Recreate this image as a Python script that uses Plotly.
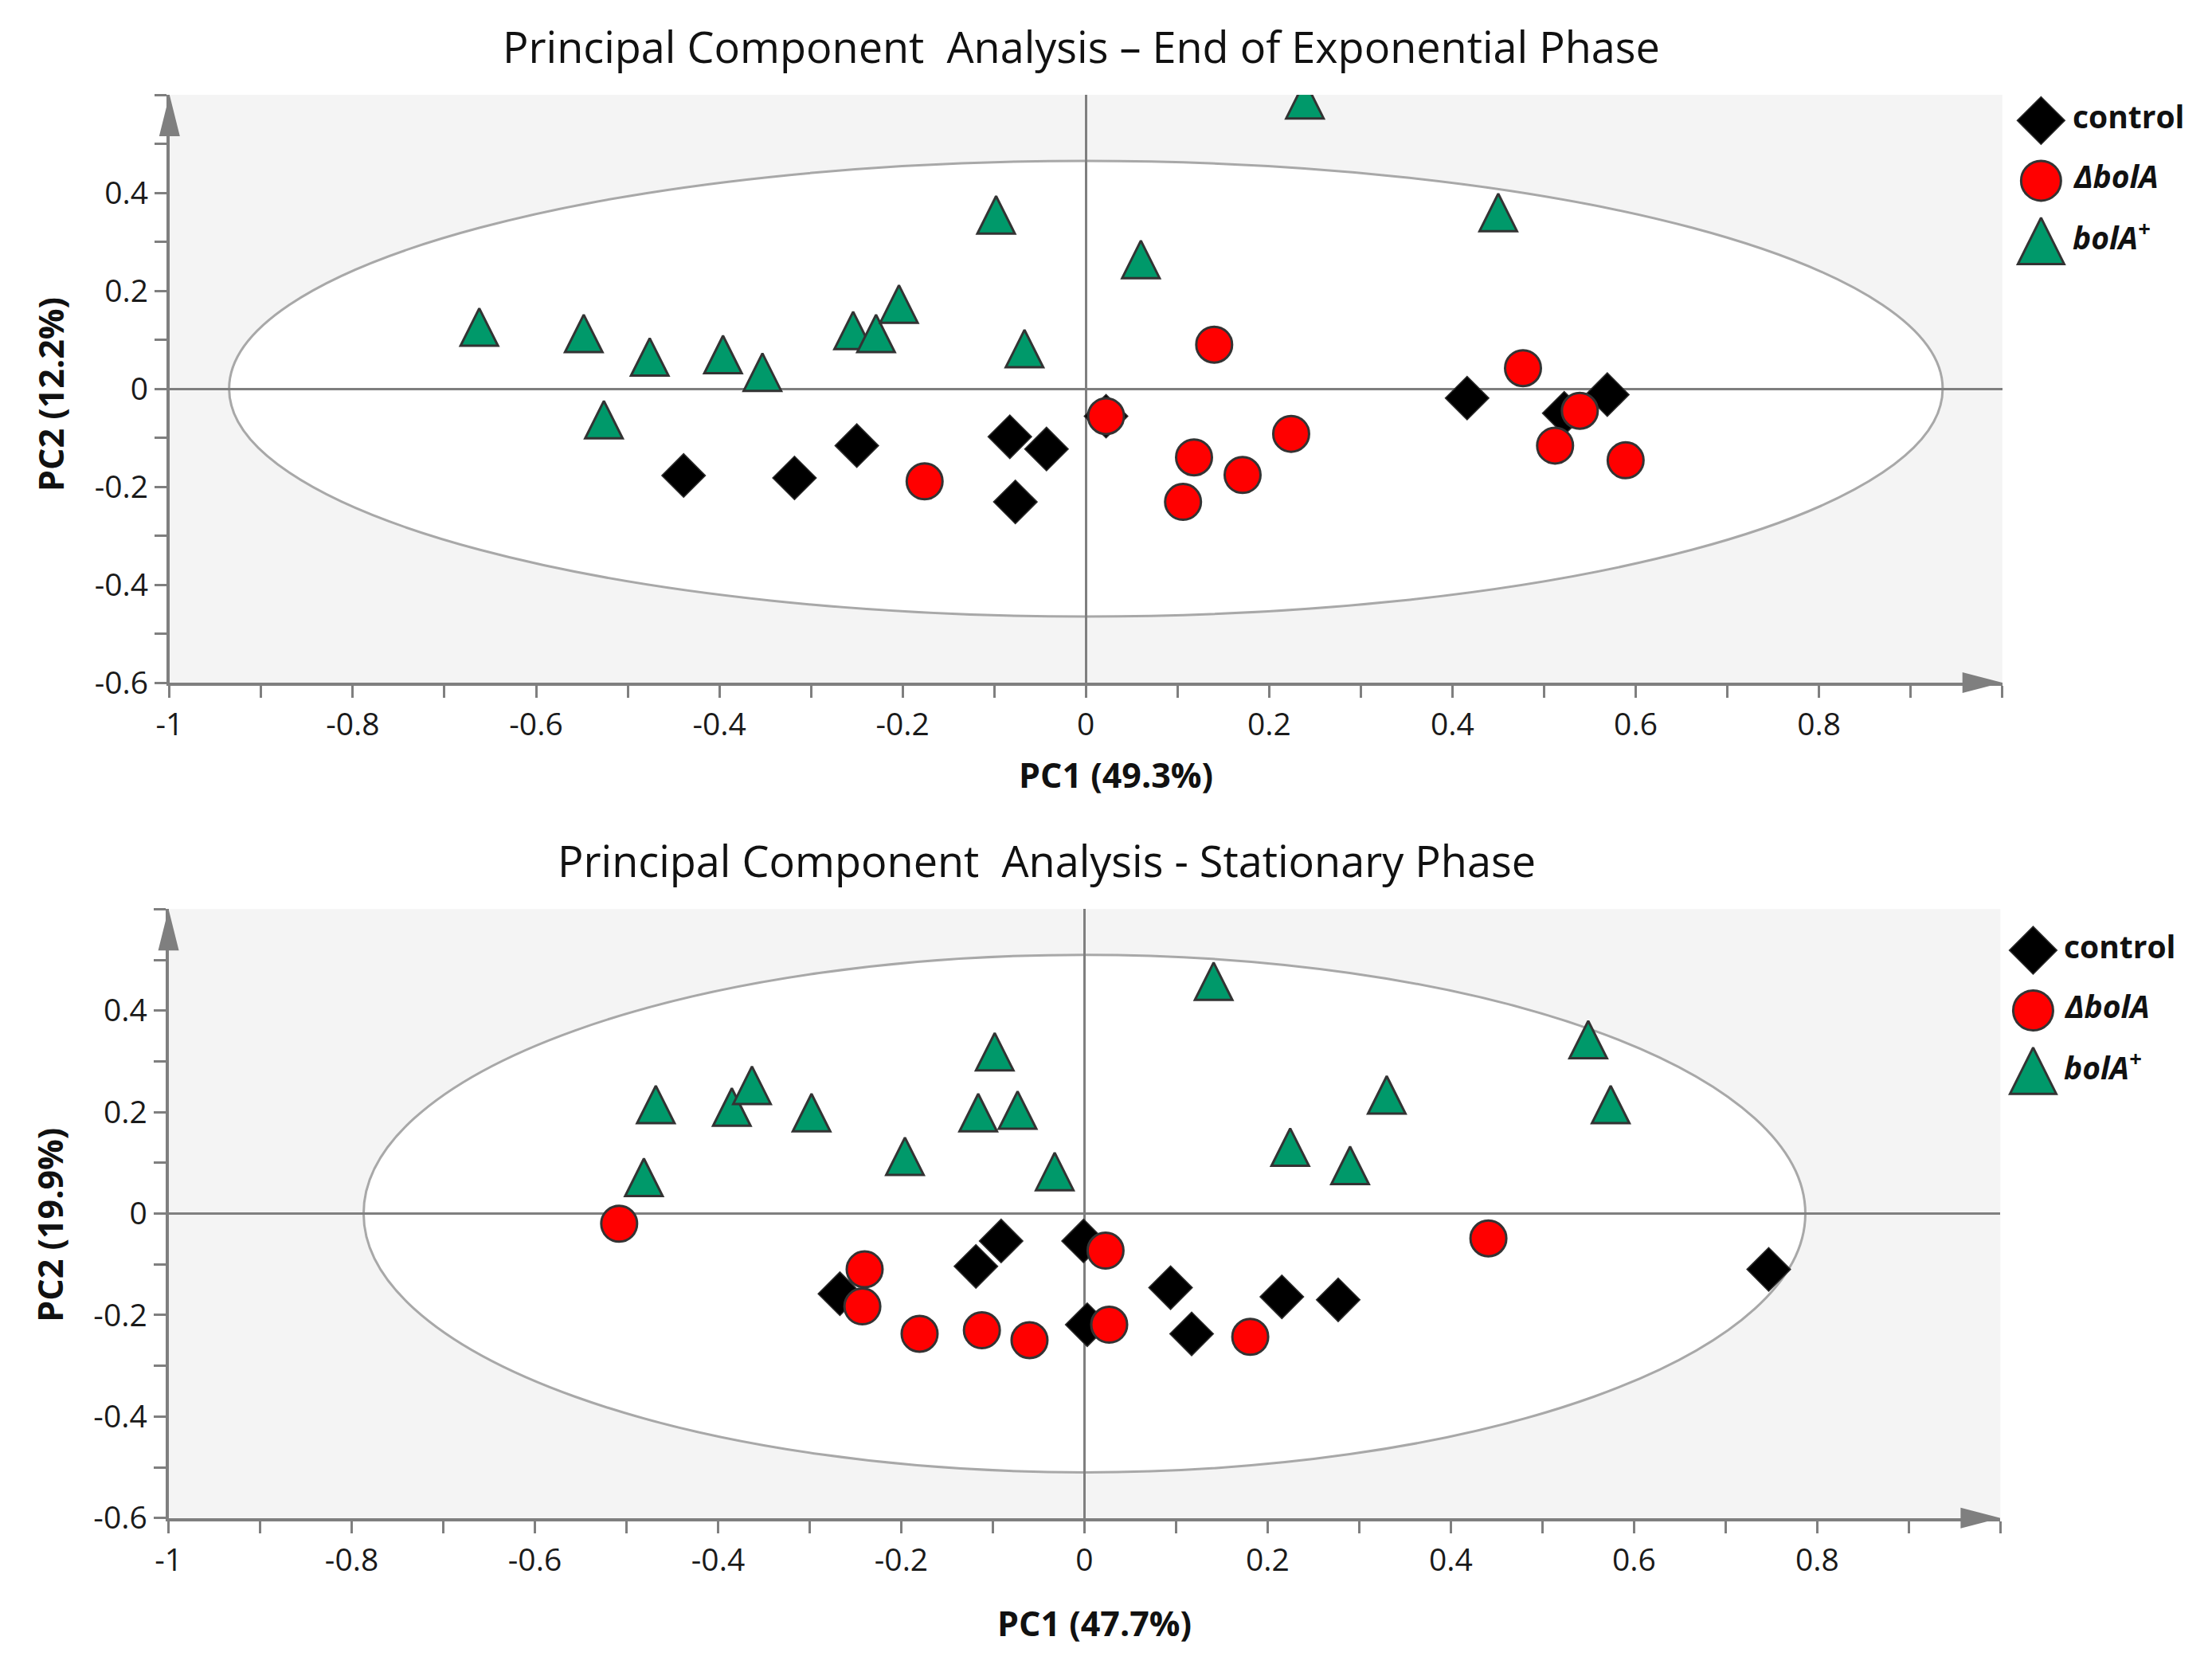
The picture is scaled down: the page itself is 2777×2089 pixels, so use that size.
import plotly.graph_objects as go

# ---------------- data: End of Exponential Phase ----------------
exp_control_pc1 = [-0.439, -0.318, -0.250, -0.083, -0.043, -0.077, 0.022, 0.416, 0.522, 0.569]
exp_control_pc2 = [-0.177, -0.182, -0.116, -0.098, -0.123, -0.231, -0.056, -0.019, -0.050, -0.012]
exp_dbola_pc1 = [-0.176, 0.022, 0.140, 0.118, 0.106, 0.171, 0.224, 0.477, 0.539, 0.512, 0.589]
exp_dbola_pc2 = [-0.189, -0.056, 0.090, -0.140, -0.231, -0.176, -0.092, 0.042, -0.045, -0.116, -0.146]
exp_bolap_pc1 = [-0.662, -0.548, -0.476, -0.396, -0.353, -0.526, -0.254, -0.229, -0.204, -0.098, -0.067, 0.060, 0.239, 0.450]
exp_bolap_pc2 = [0.126, 0.113, 0.065, 0.070, 0.034, -0.063, 0.119, 0.113, 0.173, 0.355, 0.082, 0.264, 0.590, 0.360]
exp_ellipse = (0.935, 0.465)   # semi-axes of confidence ellipse (PC1, PC2)

# ---------------- data: Stationary Phase ----------------
sta_control_pc1 = [-0.267, -0.1185, -0.091, -0.001, 0.003, 0.094, 0.117, 0.2155, 0.277, 0.747]
sta_control_pc2 = [-0.158, -0.104, -0.054, -0.054, -0.219, -0.146, -0.237, -0.164, -0.170, -0.110]
sta_dbola_pc1 = [-0.508, -0.240, -0.2425, -0.180, -0.112, -0.060, 0.023, 0.027, 0.181, 0.441]
sta_dbola_pc2 = [-0.020, -0.110, -0.183, -0.237, -0.230, -0.2495, -0.073, -0.219, -0.243, -0.049]
sta_bolap_pc1 = [-0.481, -0.468, -0.385, -0.363, -0.298, -0.196, -0.116, -0.073, -0.098, -0.0325,
                 0.141, 0.2246, 0.290, 0.330, 0.550, 0.5745]
sta_bolap_pc2 = [0.0715, 0.215, 0.210, 0.253, 0.199, 0.113, 0.199, 0.204, 0.319, 0.083,
                 0.458, 0.131, 0.095, 0.234, 0.343, 0.215]
sta_ellipse = (0.787, 0.51)

titles = ["Principal Component  Analysis \u2013 End of Exponential Phase",
          "Principal Component  Analysis - Stationary Phase"]
pc1_titles = ["PC1 (49.3%)", "PC1 (47.7%)"]
pc2_titles = ["PC2 (12.2%)", "PC2 (19.9%)"]
groups = ["control", "\u0394bolA", "bolA<sup>+</sup>"]
x_ticks = [-1, -0.8, -0.6, -0.4, -0.2, 0, 0.2, 0.4, 0.6, 0.8]
x_tick_text = ["-1", "-0.8", "-0.6", "-0.4", "-0.2", "0", "0.2", "0.4", "0.6", "0.8"]
y_ticks = [-0.6, -0.4, -0.2, 0, 0.2, 0.4]
y_tick_text = ["-0.6", "-0.4", "-0.2", "0", "0.2", "0.4"]

# ---------------- style / layout helpers ----------------
W, H = 2777, 2089
FONT = "Open Sans, Noto Sans, sans-serif"
AX = "#7f7f7f"
BLACK = "#000000"
RED = "#ff0000"
GREEN = "#00996a"
EDGE = "#333333"
BG = "#f4f4f4"
DX, DY, SY = 19.0, 7.8, 0.994   # page-placement compensation


def px(xr):
    return (xr - DX) / W


def py(yr):
    return 1 - ((yr - DY) / SY) / H


fig = go.Figure()


def add_panel(n, cx, cy, rx, ry, gx, gy):
    xa = "x" if n == 1 else "x%d" % n
    ya = "y" if n == 1 else "y%d" % n
    fig.add_trace(go.Scatter(x=cx, y=cy, mode="markers", xaxis=xa, yaxis=ya, showlegend=False,
                             marker=dict(symbol="diamond", size=42, color=BLACK,
                                         line=dict(color="#2a2a2a", width=1.5))))
    fig.add_trace(go.Scatter(x=gx, y=gy, mode="markers", xaxis=xa, yaxis=ya, showlegend=False,
                             marker=dict(symbol="arrow-down", angle=180, standoff=23.5, size=47,
                                         color=GREEN, line=dict(color=EDGE, width=3))))
    fig.add_trace(go.Scatter(x=rx, y=ry, mode="markers", xaxis=xa, yaxis=ya, showlegend=False,
                             marker=dict(symbol="circle", size=45, color=RED,
                                         line=dict(color=EDGE, width=3))))


add_panel(1, exp_control_pc1, exp_control_pc2, exp_dbola_pc1, exp_dbola_pc2, exp_bolap_pc1, exp_bolap_pc2)
add_panel(2, sta_control_pc1, sta_control_pc2, sta_dbola_pc1, sta_dbola_pc2, sta_bolap_pc1, sta_bolap_pc2)

# plot-area pixel boxes (left, right, top, bottom)
boxes = [(208, 2523, 119.5, 862), (206.7, 2520.7, 1148, 1917)]

axis_common = dict(showgrid=False, zeroline=True, zerolinecolor=AX, zerolinewidth=3,
                   showline=True, linecolor=AX, linewidth=4, ticks="outside", ticklen=15,
                   tickwidth=3, tickcolor=AX, tickfont=dict(family=FONT, size=39, color="#1a1a1a"),
                   fixedrange=True)


def xaxis(box, anchor):
    return dict(axis_common, domain=[px(box[0]), px(box[1])], anchor=anchor, range=[-1, 1],
                tickmode="array", tickvals=x_ticks, ticktext=x_tick_text,
                minor=dict(dtick=0.1, tick0=0, ticks="outside", ticklen=15, tickwidth=3, tickcolor=AX))


def yaxis(box, anchor):
    return dict(axis_common, domain=[py(box[3]), py(box[2])], anchor=anchor, range=[-0.6, 0.6],
                tickmode="array", tickvals=y_ticks, ticktext=y_tick_text,
                minor=dict(dtick=0.1, tick0=0, ticks="outside", ticklen=15, tickwidth=3, tickcolor=AX))


shapes = []
for (xr, yr, (ea, eb)), box in zip([("x", "y", exp_ellipse), ("x2", "y2", sta_ellipse)], boxes):
    shapes.append(dict(type="rect", xref=xr + " domain", yref=yr + " domain", x0=0, x1=1, y0=0, y1=1,
                       fillcolor=BG, line=dict(width=0), layer="below"))
    shapes.append(dict(type="circle", xref=xr, yref=yr, x0=-ea, x1=ea, y0=-eb, y1=eb,
                       fillcolor="white", line=dict(color="#a8a8a8", width=3), layer="below"))
    shapes.append(dict(type="path", xref="paper", yref="paper", xsizemode="pixel", ysizemode="pixel",
                       xanchor=px(box[0]), yanchor=py(box[2]), path="M-13,-52L13,-52L0,0Z",
                       fillcolor=AX, line=dict(width=0), layer="above"))
    shapes.append(dict(type="path", xref="paper", yref="paper", xsizemode="pixel", ysizemode="pixel",
                       xanchor=px(box[1]), yanchor=py(box[3]), path="M-50,-13L-50,13L0,0Z",
                       fillcolor=AX, line=dict(width=0), layer="above"))

annotations = []
title_pos = [(1360, 58), (1316, 1086)]
pc1_pos = [(1403, 978), (1376, 2050)]
pc2_pos = [(57, 498), (57, 1547)]
for i in range(2):
    annotations.append(dict(text=titles[i], xref="paper", yref="paper", x=px(title_pos[i][0]),
                            y=py(title_pos[i][1]), xanchor="center", yanchor="middle",
                            showarrow=False, font=dict(family=FONT, size=54, color="#111111")))
    annotations.append(dict(text="<b>%s</b>" % pc1_titles[i], xref="paper", yref="paper",
                            x=px(pc1_pos[i][0]), y=py(pc1_pos[i][1]), xanchor="center",
                            yanchor="middle", showarrow=False,
                            font=dict(family=FONT, size=43, color="#111111")))
    annotations.append(dict(text="<b>%s</b>" % pc2_titles[i], xref="paper", yref="paper",
                            x=px(pc2_pos[i][0]), y=py(pc2_pos[i][1]), xanchor="center",
                            yanchor="middle", textangle=-90, showarrow=False,
                            font=dict(family=FONT, size=43, color="#111111")))

# ---------------- custom legends (large symbols) ----------------
leg_syms = [dict(symbol="diamond", size=46, color=BLACK, line=dict(color="#2a2a2a", width=1.5)),
            dict(symbol="circle", size=50, color=RED, line=dict(color=EDGE, width=3)),
            dict(symbol="arrow-down", angle=180, standoff=29, size=58, color=GREEN,
                 line=dict(color=EDGE, width=3))]
leg_fmt = ["<b>%s</b>", "<b><i>%s</i></b>", "<b><i>%s</i></b>"]
leg_cfg = [("x3", "y3", 2572, 152, 2610, (80, 420)), ("x4", "y4", 2562, 1200, 2599, (1120, 1460))]
for xr, yr, mx, my0, tx, _ in leg_cfg:
    for i, g in enumerate(groups):
        ypix = my0 + i * 76
        fig.add_trace(go.Scatter(x=[mx], y=[ypix], mode="markers", xaxis=xr, yaxis=yr,
                                 showlegend=False, cliponaxis=False, hoverinfo="skip",
                                 marker=leg_syms[i]))
        annotations.append(dict(text=leg_fmt[i] % g, xref=xr, yref=yr, x=tx, y=ypix - 6,
                                xanchor="left", yanchor="middle", showarrow=False,
                                font=dict(family=FONT, size=39, color="#111111")))

hidden = dict(visible=False, fixedrange=True, showticklabels=False, title=dict(text=""))
lx0, lx1 = 2545, W
fig.update_layout(
    width=W, height=H, margin=dict(l=0, r=0, t=0, b=0),
    paper_bgcolor="white", plot_bgcolor="rgba(0,0,0,0)",
    showlegend=False,
    xaxis=xaxis(boxes[0], "y"), yaxis=yaxis(boxes[0], "x"),
    xaxis2=xaxis(boxes[1], "y2"), yaxis2=yaxis(boxes[1], "x2"),
    xaxis3=dict(hidden, domain=[px(lx0), px(lx1)], range=[lx0, lx1], anchor="y3"),
    yaxis3=dict(hidden, domain=[py(leg_cfg[0][5][1]), py(leg_cfg[0][5][0])],
                range=[leg_cfg[0][5][1], leg_cfg[0][5][0]], anchor="x3"),
    xaxis4=dict(hidden, domain=[px(lx0), px(lx1)], range=[lx0, lx1], anchor="y4"),
    yaxis4=dict(hidden, domain=[py(leg_cfg[1][5][1]), py(leg_cfg[1][5][0])],
                range=[leg_cfg[1][5][1], leg_cfg[1][5][0]], anchor="x4"),
    shapes=shapes, annotations=annotations,
)

fig.write_html("out.html")
